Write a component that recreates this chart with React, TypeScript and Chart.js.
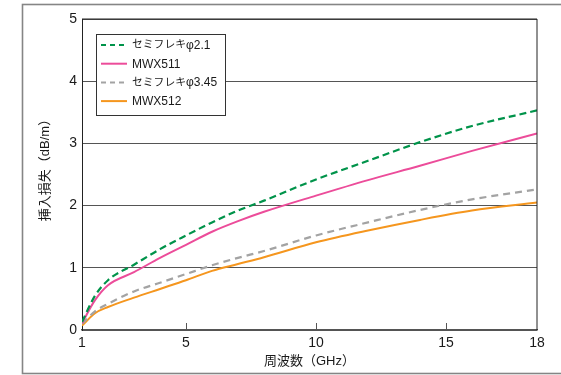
import React, { useEffect, useRef } from 'react';
import { Chart, registerables } from 'chart.js';

Chart.register(...registerables);

// Frequency (GHz) sample positions; the reference axis ends slightly past 18 where its "18" label sits
const freqs = [1, 1.5, 2, 3, 4, 5, 6, 7, 8, 10, 12, 14, 16, 18.5];
const semiflex21 = [0.13, 0.55, 0.8, 1.05, 1.3, 1.52, 1.73, 1.92, 2.08, 2.42, 2.72, 3.02, 3.28, 3.53];
const mwx511 = [0.11, 0.48, 0.72, 0.93, 1.16, 1.37, 1.58, 1.75, 1.9, 2.16, 2.41, 2.64, 2.88, 3.16];
const semiflex345 = [0.1, 0.3, 0.42, 0.62, 0.76, 0.9, 1.04, 1.16, 1.27, 1.52, 1.73, 1.93, 2.1, 2.26];
const mwx512 = [0.07, 0.27, 0.37, 0.52, 0.66, 0.8, 0.95, 1.06, 1.17, 1.41, 1.6, 1.77, 1.92, 2.05];

const seriesLabels = ['セミフレキφ2.1', 'MWX511', 'セミフレキφ3.45', 'MWX512'];
const xTickValues = [1, 5, 10, 15, 18.5];
const xTickLabels = ['1', '5', '10', '15', '18'];
const xTitle = '周波数（GHz）';
const yTitle = '挿入損失（dB/m）';

const FONT = "'Liberation Sans', 'Noto Sans CJK JP', sans-serif";

const isKana = (ch: string) => /[\u3040-\u30ff\u4e00-\u9fff]/.test(ch);

export default function App() {
  const ref = useRef<HTMLCanvasElement | null>(null);

  useEffect(() => {
    const canvas = ref.current;
    if (!canvas) return;

    const pts = (ys: number[]) => freqs.map((x, i) => ({ x, y: ys[i] }));

    const drawMixed = (ctx: CanvasRenderingContext2D, text: string, x: number, y: number, draw: boolean) => {
      let cx = x;
      const runs: { t: string; k: boolean }[] = [];
      for (const ch of Array.from(text)) {
        const k = isKana(ch);
        if (runs.length && runs[runs.length - 1].k === k) runs[runs.length - 1].t += ch;
        else runs.push({ t: ch, k });
      }
      runs.forEach((r) => {
        ctx.font = r.k ? `10.8px ${FONT}` : `12px ${FONT}`;
        if (draw) ctx.fillText(r.t, cx, y);
        cx += ctx.measureText(r.t).width;
      });
      return cx - x;
    };

    const decor = {
      id: 'decor',
      beforeDraw(chart: any) {
        const ctx = chart.ctx;
        ctx.save();
        ctx.fillStyle = '#ffffff';
        ctx.fillRect(0, 0, chart.width, chart.height);
        ctx.strokeStyle = '#858585';
        ctx.lineWidth = 1.6;
        ctx.strokeRect(22.5, 4.5, 560, 369);
        ctx.restore();
      },
      afterDatasetsDraw(chart: any) {
        const ctx = chart.ctx;
        const a = chart.chartArea;
        const xs = chart.scales.x;
        ctx.save();
        ctx.strokeStyle = '#222';
        ctx.lineWidth = 1;
        ctx.beginPath();
        ctx.moveTo(a.left, a.top);
        ctx.lineTo(a.right, a.top);
        ctx.lineTo(a.right, a.bottom);
        ctx.stroke();
        ctx.strokeStyle = '#555';
        ctx.beginPath();
        xTickValues.slice(1, -1).forEach((v) => {
          const px = Math.round(xs.getPixelForValue(v)) + 0.5;
          ctx.moveTo(px, a.bottom);
          ctx.lineTo(px, a.bottom - 7);
        });
        ctx.stroke();

        // legend
        ctx.textBaseline = 'middle';
        ctx.textAlign = 'left';
        let maxW = 0;
        chart.data.datasets.forEach((ds: any) => {
          maxW = Math.max(maxW, drawMixed(ctx, ds.label, 0, 0, false));
        });
        const lx = 96, ly = 34, lh = 81;
        const lw = Math.round(132 - lx + maxW + 8);
        ctx.fillStyle = '#fff';
        ctx.fillRect(lx, ly, lw, lh);
        ctx.strokeStyle = '#333';
        ctx.lineWidth = 1;
        ctx.strokeRect(lx + 0.5, ly + 0.5, lw, lh);
        chart.data.datasets.forEach((ds: any, i: number) => {
          const cy = 45 + i * 18.7;
          ctx.strokeStyle = ds.borderColor;
          ctx.lineWidth = 2;
          ctx.setLineDash(ds.borderDash && ds.borderDash.length ? [5, 4] : []);
          ctx.beginPath();
          ctx.moveTo(101, cy);
          ctx.lineTo(127, cy);
          ctx.stroke();
          ctx.setLineDash([]);
          ctx.fillStyle = '#1a1a1a';
          drawMixed(ctx, ds.label, 132, cy + 0.5, true);
        });

        // axis titles
        ctx.fillStyle = '#1a1a1a';
        ctx.font = `13px ${FONT}`;
        ctx.textAlign = 'center';
        ctx.textBaseline = 'middle';
        ctx.fillText(xTitle, (a.left + a.right) / 2, 361);
        ctx.translate(45, 167);
        ctx.rotate(-Math.PI / 2);
        ctx.fillText(yTitle, 0, 0);
        ctx.restore();
      },
    };

    const chart = new Chart(canvas, {
      type: 'line',
      data: {
        datasets: [
          { label: seriesLabels[0], data: pts(semiflex21), borderColor: '#00934a', borderDash: [7, 4], borderWidth: 2.2 },
          { label: seriesLabels[1], data: pts(mwx511), borderColor: '#ec4c9a', borderDash: [], borderWidth: 2 },
          { label: seriesLabels[2], data: pts(semiflex345), borderColor: '#a3a3a3', borderDash: [7, 5], borderWidth: 2.2 },
          { label: seriesLabels[3], data: pts(mwx512), borderColor: '#f5961e', borderDash: [], borderWidth: 2 },
        ] as any,
      },
      options: {
        responsive: false,
        animation: false,
        devicePixelRatio: 1,
        layout: { padding: { left: 0, top: 19, right: 24, bottom: 0 } },
        elements: { point: { radius: 0 }, line: { cubicInterpolationMode: 'monotone' } },
        plugins: { legend: { display: false }, tooltip: { enabled: false } },
        scales: {
          x: {
            type: 'linear',
            min: 1,
            max: 18.5,
            afterBuildTicks: (scale: any) => {
              scale.ticks = xTickValues.map((v) => ({ value: v }));
            },
            afterFit: (scale: any) => {
              scale.height = 45;
            },
            ticks: {
              autoSkip: false,
              maxRotation: 0,
              padding: 5,
              color: '#1a1a1a',
              font: { family: FONT, size: 14 },
              callback: (v: any) => {
                const i = xTickValues.indexOf(Number(v));
                return i >= 0 ? xTickLabels[i] : '';
              },
            },
            grid: { display: false, drawTicks: false },
            border: { display: true, color: '#555', width: 1.5 },
          },
          y: {
            min: 0,
            max: 5,
            afterFit: (scale: any) => {
              scale.width = 82;
            },
            ticks: {
              stepSize: 1,
              padding: 5,
              color: '#1a1a1a',
              font: { family: FONT, size: 14 },
            },
            grid: { color: '#555', lineWidth: 1, drawTicks: false },
            border: { display: true, color: '#222', width: 1 },
          },
        },
      },
      plugins: [decor],
    } as any);

    return () => chart.destroy();
  }, []);

  return (
    <div style={{ position: 'fixed', left: 0, top: 0, width: 561, height: 375, background: '#fff' }}>
      <canvas ref={ref} width={561} height={375} style={{ display: 'block', width: 561, height: 375 }} />
    </div>
  );
}
